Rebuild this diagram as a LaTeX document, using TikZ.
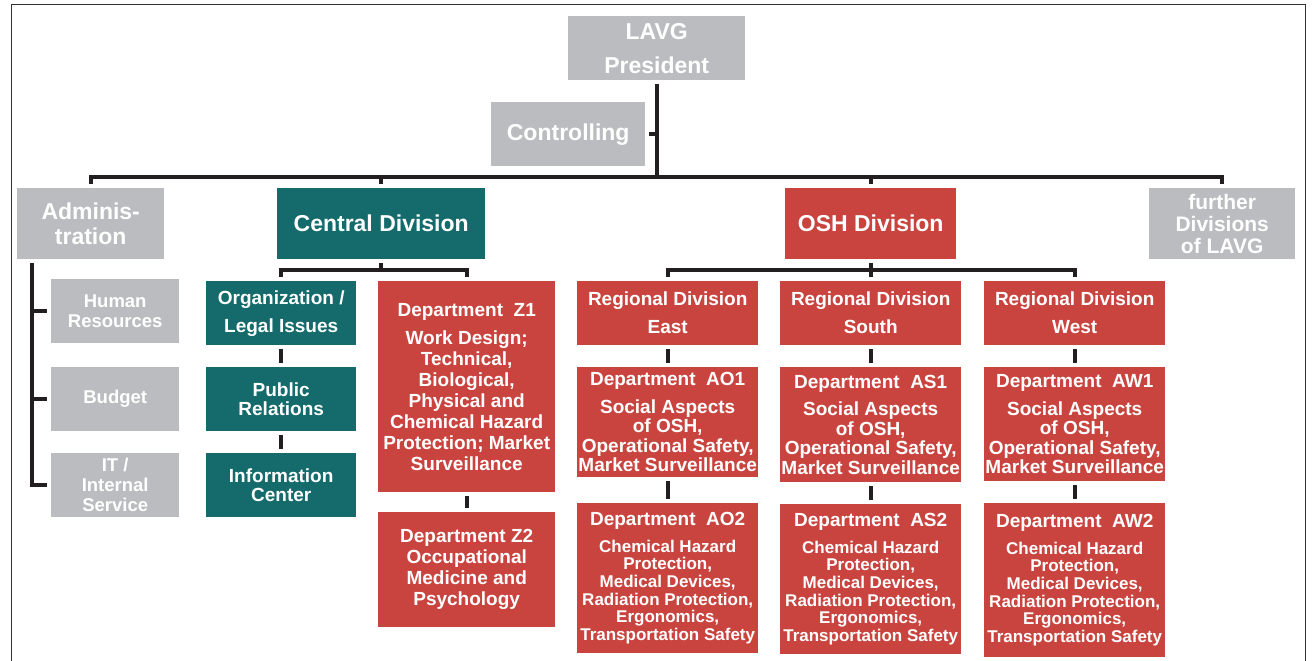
\documentclass[tikz,border=0pt]{standalone}
\usepackage{fontspec}
\setmainfont{Liberation Sans}
\definecolor{boxgray}{HTML}{BBBCBF}
\definecolor{divteal}{HTML}{156B6B}
\definecolor{divred}{HTML}{C9443F}
\definecolor{linedark}{HTML}{231F20}
\newcommand\myfs[2]{\fontsize{#1}{#2}\selectfont}
\tikzset{
  bx/.style={anchor=north west, inner sep=0pt, align=center, text=white},
  gbox/.style={bx, fill=boxgray},
  tbox/.style={bx, fill=divteal},
  rbox/.style={bx, fill=divred},
  txt/.style 2 args={font=\bfseries\myfs{#1}{#2}},
  wh/.style 2 args={minimum width=#1pt, minimum height=#2pt},
  conn/.style={draw=linedark, line width=3.8pt},
  frameline/.style={draw=black!80, line width=1.5pt}
}
\begin{document}
\begin{tikzpicture}[x=1pt,y=-1pt]
\useasboundingbox (0,0) rectangle (1312,661);
\fill[white] (0,0) rectangle (1312,661);
\draw[frameline] (11.5,661) -- (11.5,4.5) -- (1305.3,4.5) -- (1305.3,661);

% top level
\node[gbox, wh={177}{64}, txt={23}{34}] (pres) at (568,16) {LAVG\\President};
\node[gbox, wh={154}{64}, txt={23}{26}] (ctrl) at (491,102) {Controlling};
\node[gbox, wh={147}{71}, txt={23}{25}] (adm) at (17,188) {Adminis-\\tration};
\node[tbox, wh={208}{71}, txt={23}{26}] (cdiv) at (277,188) {Central Division};
\node[rbox, wh={171}{71}, txt={23}{26}] (osh) at (785,188) {OSH Division};
\node[gbox, wh={146}{71}, txt={21}{22}] (furth) at (1149,188) {further\\Divisions\\of LAVG};

% administration
\node[gbox, wh={128}{64}, txt={18.5}{20}] (hr) at (51,279) {Human\\Resources};
\node[gbox, wh={128}{64}, txt={18.5}{20}] (bud) at (51,367) {Budget};
\node[gbox, wh={128}{64}, txt={18.5}{20}] (it) at (51,453) {IT /\\Internal\\Service};

% central division
\node[tbox, wh={150}{64}, txt={19}{28}] (orgl) at (206,281) {Organization /\\Legal Issues};
\node[tbox, wh={150}{64}, txt={19}{19.5}] (pub) at (206,367) {Public\\Relations};
\node[tbox, wh={150}{64}, txt={19}{19.5}] (info) at (206,453) {Information\\Center};
\node[rbox, wh={177}{211}, txt={19}{21}] (z1) at (378,281)
  {Department\ \ Z1\\[7pt]Work Design;\\Technical,\\Biological,\\Physical and\\Chemical Hazard\\Protection; Market\\Surveillance};
\node[rbox, wh={177}{115}, txt={19}{21}] (z2) at (378,512)
  {Department Z2\\Occupational\\Medicine and\\Psychology};

% OSH division
\node[rbox, wh={181}{64}, txt={19}{28}] (east) at (577,281) {Regional Division\\East};
\node[rbox, wh={181}{64}, txt={19}{28}] (south) at (780,281) {Regional Division\\South};
\node[rbox, wh={181}{64}, txt={19}{28}] (west) at (984,281) {Regional Division\\West};

\node[rbox, wh={181}{110}, txt={19}{19.5}] (ao1) at (577,367)
  {Department\ \ AO1\\[8pt]Social Aspects\\of OSH,\\Operational Safety,\\Market Surveillance};
\node[rbox, wh={181}{115}, txt={19}{19.5}] (as1) at (780,367)
  {Department\ \ AS1\\[8pt]Social Aspects\\of OSH,\\Operational Safety,\\Market Surveillance};
\node[rbox, wh={181}{114}, txt={19}{19.5}] (aw1) at (984,367)
  {Department\ \ AW1\\[8pt]Social Aspects\\of OSH,\\Operational Safety,\\Market Surveillance};

\node[rbox, wh={181}{150}, txt={17}{17.7}] (ao2) at (577,503)
  {{\myfs{19}{19}Department\ \ AO2}\\[9pt]Chemical Hazard\\Protection,\\Medical Devices,\\Radiation Protection,\\Ergonomics,\\Transportation Safety};
\node[rbox, wh={181}{150}, txt={17}{17.7}] (as2) at (780,504)
  {{\myfs{19}{19}Department\ \ AS2}\\[9pt]Chemical Hazard\\Protection,\\Medical Devices,\\Radiation Protection,\\Ergonomics,\\Transportation Safety};
\node[rbox, wh={181}{154}, txt={17}{17.7}] (aw2) at (984,503)
  {{\myfs{19}{19}Department\ \ AW2}\\[9pt]Chemical Hazard\\Protection,\\Medical Devices,\\Radiation Protection,\\Ergonomics,\\Transportation Safety};

% connectors: top level
\coordinate (mbar) at (656.5,177);
\draw[conn] ([yshift=-4pt]pres.south) -- (pres.south |- mbar);
\draw[conn] ([xshift=4pt]ctrl.east) -- (ctrl.east -| pres.south);
\draw[conn] ([yshift=4pt]adm.north) |- (mbar) -| ([yshift=4pt]furth.north);
\draw[conn] ([yshift=4pt]cdiv.north) -- (cdiv.north |- mbar);
\draw[conn] ([yshift=4pt]osh.north) -- (osh.north |- mbar);

% administration
\coordinate (aline) at (31.7,263);
\draw[conn] (aline) |- ([xshift=-4pt]it.west);
\draw[conn] (aline |- hr.west) -- ([xshift=-4pt]hr.west);
\draw[conn] (aline |- bud.west) -- ([xshift=-4pt]bud.west);

% central division
\coordinate (cbar) at (381,270);
\draw[conn] ([yshift=-4pt]cdiv.south) -- (cdiv.south |- cbar);
\draw[conn] ([yshift=4pt]orgl.north) |- (cbar) -| ([yshift=4pt]z1.north);
\draw[conn] ([yshift=-4pt]orgl.south) -- ([yshift=4pt]pub.north);
\draw[conn] ([yshift=-4pt]pub.south) -- ([yshift=4pt]info.north);
\draw[conn] ([yshift=-4pt]z1.south) -- ([yshift=4pt]z2.north);

% OSH division
\coordinate (obar) at (870.5,270);
\draw[conn] ([yshift=-4pt]osh.south) -- (osh.south |- obar);
\draw[conn] ([yshift=4pt]east.north) |- (obar) -| ([yshift=4pt]west.north);
\draw[conn] ([yshift=4pt]south.north) -- (south.north |- obar);
\draw[conn] ([yshift=-4pt]east.south) -- ([yshift=4pt]ao1.north);
\draw[conn] ([yshift=-4pt]south.south) -- ([yshift=4pt]as1.north);
\draw[conn] ([yshift=-4pt]west.south) -- ([yshift=4pt]aw1.north);
\draw[conn] ([yshift=-4pt]ao1.south) -- ([yshift=4pt]ao2.north);
\draw[conn] ([yshift=-4pt]as1.south) -- ([yshift=4pt]as2.north);
\draw[conn] ([yshift=-4pt]aw1.south) -- ([yshift=4pt]aw2.north);
\end{tikzpicture}
\end{document}
